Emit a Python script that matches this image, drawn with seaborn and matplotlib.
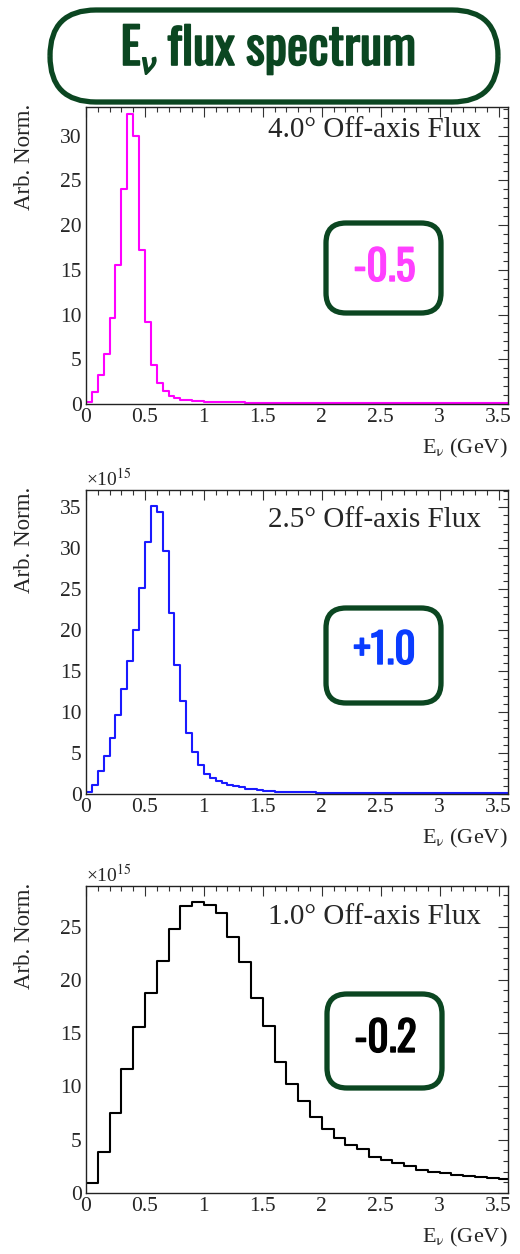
import numpy as np
import pandas as pd
import matplotlib
matplotlib.use("Agg")
import matplotlib.pyplot as plt
import matplotlib.patheffects as pe
import seaborn as sns
from matplotlib.patches import FancyBboxPatch
from matplotlib.ticker import MultipleLocator

# ---------------- data ----------------
title_text = r"E$_{\nu}$ flux spectrum"
panel_labels = ["4.0° Off-axis Flux", "2.5° Off-axis Flux", "1.0° Off-axis Flux"]
badge_labels = ["-0.5", "+1.0", "-0.2"]
x_label = r"E$_{\mathrm{\nu}}$ (GeV)"
y_label = "Arb. Norm."
scale_label = r"×10$^{15}$"
x_ticks = [0, 0.5, 1, 1.5, 2, 2.5, 3, 3.5]
x_tick_labels = ["0", "0.5", "1", "1.5", "2", "2.5", "3", "3.5"]
e_max = 3.6
bin_width_fine = 0.05
bin_width_coarse = 0.1

# 4.0 deg off-axis flux (x1e15), 0.05 GeV bins from 0 to 3.6 GeV
flux_4p0 = [0.2, 1.3, 3.2, 5.6, 9.6, 15.5, 24.0, 32.4, 30.0, 17.2,
            9.2, 4.4, 2.3, 1.4, 0.9, 0.7, 0.5, 0.4,
            0.35, 0.3, 0.27, 0.24, 0.22, 0.2,
            0.19, 0.18, 0.17, 0.16, 0.16, 0.15, 0.15, 0.14, 0.14, 0.14,
            0.13, 0.13, 0.13, 0.12, 0.12, 0.12,
            0.12, 0.11, 0.11, 0.11, 0.11, 0.1, 0.1, 0.1, 0.1, 0.1,
            0.1, 0.09, 0.09, 0.09, 0.09, 0.09,
            0.09, 0.09, 0.08, 0.08, 0.08, 0.08, 0.08, 0.08, 0.08, 0.07,
            0.07, 0.07, 0.07, 0.07, 0.07, 0.07]

# 2.5 deg off-axis flux (x1e15), 0.05 GeV bins
flux_2p5 = [0.3, 1.1, 2.8, 4.6, 6.8, 9.6, 12.8, 16.2, 20.0, 25.1,
            30.8, 35.2, 34.4, 29.7, 22.1, 15.8, 11.4, 7.4, 5.1, 3.5,
            2.5, 2.0, 1.6, 1.4, 1.15, 1.0, 0.8, 0.65, 0.55, 0.45, 0.4,
            0.33, 0.3, 0.28, 0.26, 0.24, 0.22, 0.2, 0.19, 0.18, 0.17,
            0.16, 0.16, 0.15, 0.15, 0.14, 0.14, 0.13, 0.14, 0.13, 0.13,
            0.15, 0.13, 0.12, 0.14, 0.12, 0.13, 0.12, 0.12, 0.11, 0.12,
            0.12, 0.11, 0.11, 0.1, 0.11, 0.13, 0.11, 0.1, 0.1, 0.1, 0.1]

# 1.0 deg off-axis flux (x1e15), 0.1 GeV bins
flux_1p0 = [0.94, 3.84, 7.5, 11.6, 15.6, 18.8, 21.8, 24.8, 26.9, 27.3,
            27.0, 26.3, 24.0, 21.7, 18.3, 15.7, 12.3, 10.2, 8.6, 7.1,
            6.0, 5.2, 4.5, 4.1, 3.4, 3.1, 2.8, 2.5, 2.2, 2.0,
            1.85, 1.7, 1.6, 1.47, 1.4, 1.3]

series = [flux_4p0, flux_2p5, flux_1p0]
widths = [bin_width_fine, bin_width_fine, bin_width_coarse]

# ---------------- style ----------------
sns.set_style("white")
plt.rcParams["font.family"] = ["Liberation Serif", "DejaVu Serif"]
plt.rcParams["mathtext.fontset"] = "stix"
plt.rcParams["mathtext.rm"] = "Oswald"
plt.rcParams["mathtext.it"] = "Oswald"
plt.rcParams["mathtext.bf"] = "Oswald"
plt.rcParams["mathtext.fallback"] = "stixsans"

W, H = 520, 1254
green = "#0b4621"
line_colors = ["#ff00ff", "#1a1aff", "#000000"]
badge_text_colors = ["#ff40ff", "#0a3cff", "#000000"]
# axes pixel boxes: left, right, top, bottom
boxes = [(86, 508, 107, 404), (86, 508, 490, 794), (86, 508, 886, 1193)]
ylims = [33.2, 37.1, 28.8]
label_y = [130, 520, 917]
badge_boxes = [(326, 441, 223, 313), (326, 441, 608, 703), (327, 442, 994, 1088)]
badge_base = [281, 664, 1052]
narrow = ["Oswald", "Roboto Condensed", "DejaVu Sans"]

fig = plt.figure(figsize=(W / 100, H / 100), dpi=100)


def fx(x):
    return x / W


def fy(y):
    return 1 - y / H


for i in range(3):
    l, r, t, b = boxes[i]
    ax = fig.add_axes([fx(l), fy(b), (r - l) / W, (b - t) / H])
    vals = np.array(series[i])
    w = widths[i]
    n = len(vals)
    centers = (np.arange(n) + 0.5) * w
    df = pd.DataFrame({"E": centers, "flux": vals})
    sns.histplot(data=df, x="E", weights="flux", bins=n, binrange=(0, e_max),
                 element="step", fill=False, color=line_colors[i],
                 linewidth=1.5, ax=ax)
    ax.set_xlim(0, 3.58)
    ax.set_ylim(0, ylims[i])
    ax.set_xlabel("")
    ax.set_ylabel("")
    ax.set_xticks(x_ticks)
    ax.set_xticklabels(x_tick_labels)
    ax.xaxis.set_minor_locator(MultipleLocator(0.1))
    ax.yaxis.set_major_locator(MultipleLocator(5))
    ax.yaxis.set_minor_locator(MultipleLocator(1))
    ax.tick_params(which="both", direction="in", top=True, right=True,
                   labelsize=15.5, pad=3, color="#333333")
    ax.tick_params(which="major", length=7.5, width=0.8)
    ax.tick_params(which="minor", length=3.8, width=0.8)
    for s in ax.spines.values():
        s.set_color("#222222")
        s.set_linewidth(1.0)

    fig.text(fx(481), fy(label_y[i]), panel_labels[i], ha="right", va="center",
             fontsize=21)
    fig.text(fx(508), fy(b + 44), x_label, ha="right", va="center",
             fontsize=16, math_fontfamily="stix")
    fig.text(fx(25), fy(t - 3), y_label, rotation=90, ha="center", va="top",
             fontsize=16.5)
    if i > 0:
        fig.text(fx(86), fy(t - 11), scale_label, ha="left", va="center",
                 fontsize=14, math_fontfamily="stix")

    bx0, bx1, by0, by1 = badge_boxes[i]
    patch = FancyBboxPatch((bx0 / 100, (H - by1) / 100), (bx1 - bx0) / 100,
                           (by1 - by0) / 100,
                           boxstyle="round,pad=0,rounding_size=0.2",
                           transform=fig.dpi_scale_trans, fc="white",
                           ec=green, lw=3.8, zorder=5)
    fig.add_artist(patch)
    fig.text(fx((bx0 + bx1) / 2 + 1), fy(badge_base[i]), badge_labels[i],
             ha="center", va="baseline", fontsize=30,
             color=badge_text_colors[i], family=narrow, zorder=6,
             path_effects=[pe.withStroke(linewidth=1.0,
                                         foreground=badge_text_colors[i])])

# title pill
tx0, tx1, ty0, ty1 = 50, 498, 10, 102
pill = FancyBboxPatch((tx0 / 100, (H - ty1) / 100), (tx1 - tx0) / 100,
                      (ty1 - ty0) / 100,
                      boxstyle="round,pad=0,rounding_size=0.46",
                      transform=fig.dpi_scale_trans, fc="white", ec=green,
                      lw=3.8, zorder=5)
fig.add_artist(pill)
fig.text(fx(268), fy(65), title_text, ha="center", va="baseline", fontsize=36,
         color=green, family=narrow, math_fontfamily="custom", zorder=6,
         path_effects=[pe.withStroke(linewidth=1.2, foreground=green)])

fig.savefig("out.png", dpi=100)
